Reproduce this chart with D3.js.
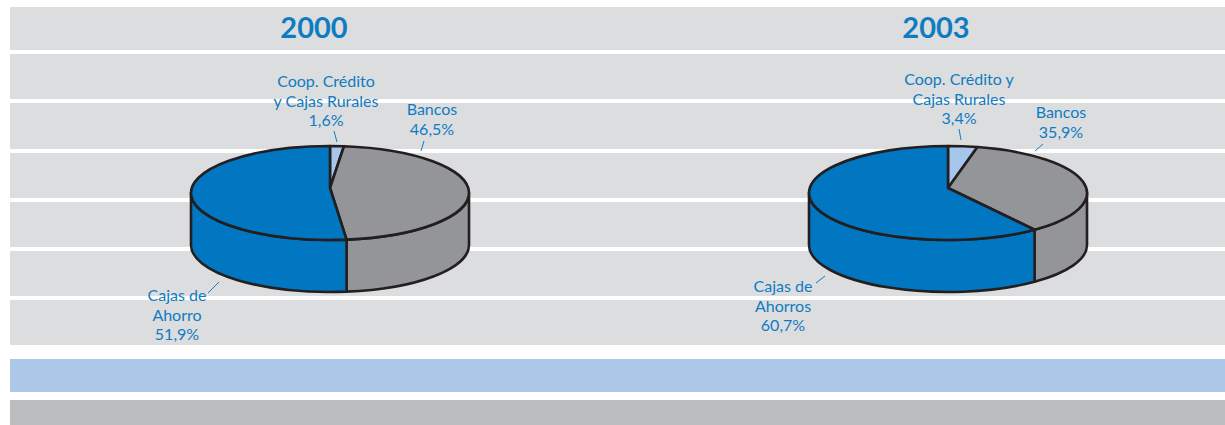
<!DOCTYPE html>
<html><head><meta charset="utf-8">
<script src="https://cdn.jsdelivr.net/npm/d3@7"></script>
<style>html,body{margin:0;padding:0;background:#fff;}svg{display:block;}</style>
</head><body>
<script>
// ---- data ----
const years = ["2000", "2003"];
const categories = ["Coop. Crédito y Cajas Rurales", "Bancos", "Cajas de Ahorros"];
const values2000 = [1.6, 46.5, 51.9];
const values2003 = [3.4, 35.9, 60.7];
const labels2000 = [["Coop. Crédito", "y Cajas Rurales", "1,6%"], ["Bancos", "46,5%"], ["Cajas de", "Ahorro", "51,9%"]];
const labels2003 = [["Coop. Crédito y", "Cajas Rurales", "3,4%"], ["Bancos", "35,9%"], ["Cajas de", "Ahorros", "60,7%"]];

const W = 1225, H = 425;
const svg = d3.select("body").append("svg").attr("width", W).attr("height", H);

// background bands
const bandTops = [7, 54, 103, 153, 202, 251, 300];
const bandBottoms = [50, 99, 149, 198, 247, 296, 345];
svg.selectAll("rect.band").data(bandTops).join("rect")
  .attr("x", 10).attr("y", d => d).attr("width", W - 10)
  .attr("height", (d, i) => bandBottoms[i] - d).attr("fill", "#dcdddf");
svg.append("rect").attr("x", 10).attr("y", 359).attr("width", W - 10).attr("height", 33).attr("fill", "#adc8e8");
svg.append("rect").attr("x", 10).attr("y", 400).attr("width", W - 10).attr("height", 25).attr("fill", "#bcbdbf");

const color = d3.scaleOrdinal().domain(categories).range(["#a6c5ea", "#939598", "#0077c0"]);
const textColor = "#0f7cc2";
const stroke = "#231f20";
const fontFam = "Lato, 'Open Sans', sans-serif";

const charts = [
  { year: years[0], values: values2000, labels: labels2000, cx: 330, titleX: 314,
    labelPos: [{x: 326, y: 87, lead: [[334,131],[337,142]]},
               {x: 432, y: 115, lead: [[424,141],[421,151]]},
               {x: 177, y: 301, lead: [[208,293],[219,282]]}] },
  { year: years[1], values: values2003, labels: labels2003, cx: 948, titleX: 936,
    labelPos: [{x: 959, y: 85, lead: [[959,129],[961,140]]},
               {x: 1061, y: 118, lead: [[1043,144],[1035,151]]},
               {x: 783, y: 292, lead: [[816,283],[825,276]]}] }
];

const cy = 193, rx = 139, ry = 47, depth = 52, vOff = -5;
const pie = d3.pie().sort(null).value(d => d.v).startAngle(0).endAngle(2 * Math.PI);

charts.forEach(ch => {
  const g = svg.append("g");
  const cx = ch.cx;
  const pt = (a, dy) => [cx + rx * Math.sin(a), cy - ry * Math.cos(a) + (dy || 0)];
  const arcs = pie(ch.values.map((v, i) => ({v, c: categories[i]})));

  // side walls (front half: angles between PI/2 and 3PI/2)
  arcs.forEach(a => {
    const s = Math.max(a.startAngle, Math.PI / 2), e = Math.min(a.endAngle, 3 * Math.PI / 2);
    if (e <= s) return;
    const p0 = pt(s), p1 = pt(e), b1 = pt(e, depth), b0 = pt(s, depth);
    const large = (e - s) > Math.PI ? 1 : 0;
    const path = `M${p0}A${rx},${ry} 0 ${large} 1 ${p1}L${b1}A${rx},${ry} 0 ${large} 0 ${b0}Z`;
    g.append("path").attr("d", path).attr("fill", color(a.data.c))
      .attr("stroke", stroke).attr("stroke-width", 2.6).attr("stroke-linejoin", "round");
  });
  // top faces
  const vx = cx, vy = cy + vOff;
  arcs.forEach(a => {
    const p0 = pt(a.startAngle), p1 = pt(a.endAngle);
    const large = (a.endAngle - a.startAngle) > Math.PI ? 1 : 0;
    const path = `M${vx},${vy}L${p0}A${rx},${ry} 0 ${large} 1 ${p1}Z`;
    g.append("path").attr("d", path).attr("fill", color(a.data.c))
      .attr("stroke", stroke).attr("stroke-width", 2.6).attr("stroke-linejoin", "round");
  });

  // title
  g.append("text").attr("x", ch.titleX).attr("y", 38).attr("text-anchor", "middle")
    .attr("font-family", fontFam).attr("font-weight", "bold").attr("font-size", 29)
    .attr("fill", textColor).text(ch.year);

  // labels
  ch.labels.forEach((lines, i) => {
    const lp = ch.labelPos[i];
    lines.forEach((t, j) => {
      g.append("text").attr("x", lp.x).attr("y", lp.y + j * 19.5).attr("text-anchor", "middle")
        .attr("font-family", fontFam).attr("font-size", 16).attr("fill", textColor).text(t);
    });
    g.append("line").attr("x1", lp.lead[0][0]).attr("y1", lp.lead[0][1])
      .attr("x2", lp.lead[1][0]).attr("y2", lp.lead[1][1])
      .attr("stroke", textColor).attr("stroke-width", 1);
  });
});
</script>
</body></html>
